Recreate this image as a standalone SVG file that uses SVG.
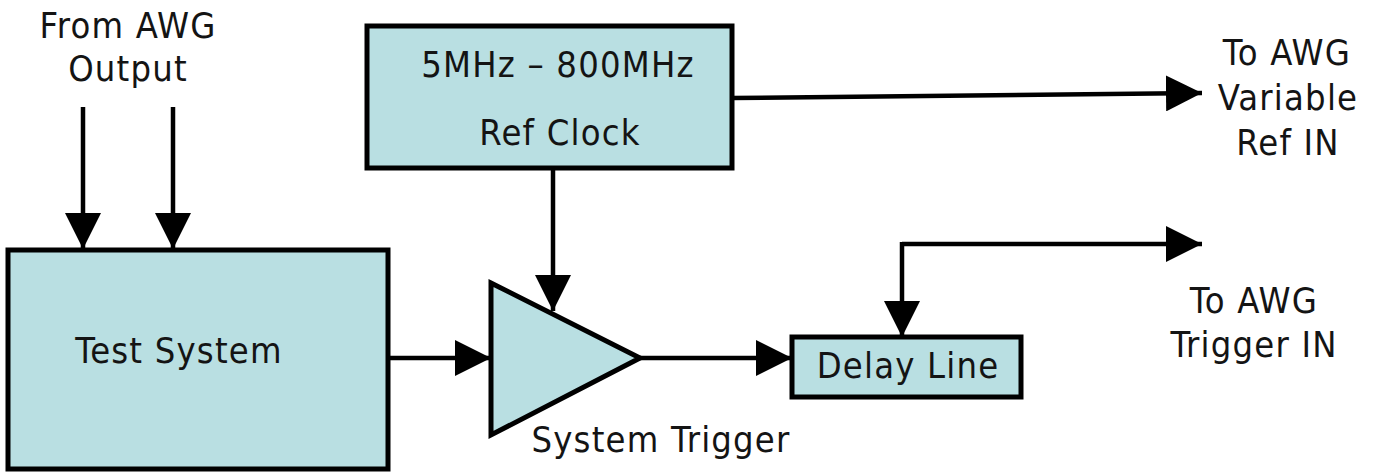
<svg xmlns="http://www.w3.org/2000/svg" width="1375" height="473" viewBox="0 0 1375 473">
<defs>
<style>
.box{fill:#b9dfe2;stroke:#000;stroke-width:5}
.wire{fill:none;stroke:#000;stroke-width:4.5;stroke-linejoin:round}
.t{font-family:"DejaVu Sans Condensed","DejaVu Sans",Verdana,sans-serif;font-size:36px;letter-spacing:1.2px;fill:#141414;text-anchor:middle}
</style>
<marker id="ah" markerUnits="userSpaceOnUse" markerWidth="36" markerHeight="36" refX="36" refY="18" orient="auto" viewBox="0 0 36 36">
<path d="M0,0 L36,18 L0,36 z" fill="#000"/>
</marker>
</defs>
<rect width="1375" height="473" fill="#fff"/>
<g id="connectors">
<line class="wire" x1="83" y1="107" x2="83" y2="249" marker-end="url(#ah)"/>
<line class="wire" x1="173" y1="107" x2="173" y2="249" marker-end="url(#ah)"/>
<line class="wire" x1="553" y1="168" x2="553" y2="311" marker-end="url(#ah)"/>
<line class="wire" x1="388" y1="358" x2="491" y2="358" marker-end="url(#ah)"/>
<line class="wire" x1="640" y1="358" x2="792" y2="358" marker-end="url(#ah)"/>
<line class="wire" x1="732" y1="98" x2="1202" y2="93" marker-end="url(#ah)"/>
<line class="wire" x1="902" y1="244" x2="1202" y2="244" marker-end="url(#ah)"/>
<line class="wire" x1="902" y1="242" x2="902" y2="337" marker-end="url(#ah)"/>
</g>
<g id="test-system">
<rect class="box" x="8" y="250" width="380" height="219"/>
<text class="t" x="179" y="363">Test System</text>
</g>
<g id="ref-clock">
<rect class="box" x="367" y="26" width="365" height="142"/>
<text class="t" x="558" y="77">5MHz – 800MHz</text>
<text class="t" x="560" y="145">Ref Clock</text>
</g>
<g id="system-trigger">
<polygon class="box" points="491,283 640,358 491,435"/>
<text class="t" x="661" y="452">System Trigger</text>
</g>
<g id="delay-line">
<rect class="box" x="792" y="337" width="229" height="60"/>
<text class="t" x="908" y="378">Delay Line</text>
</g>
<g id="label-from-awg">
<text class="t" x="128" y="38">From AWG</text>
<text class="t" x="128" y="81">Output</text>
</g>
<g id="label-ref-in">
<text class="t" x="1287" y="65">To AWG</text>
<text class="t" x="1288" y="110">Variable</text>
<text class="t" x="1288" y="155">Ref IN</text>
</g>
<g id="label-trigger-in">
<text class="t" x="1254" y="313">To AWG</text>
<text class="t" x="1254" y="357">Trigger IN</text>
</g>
</svg>
